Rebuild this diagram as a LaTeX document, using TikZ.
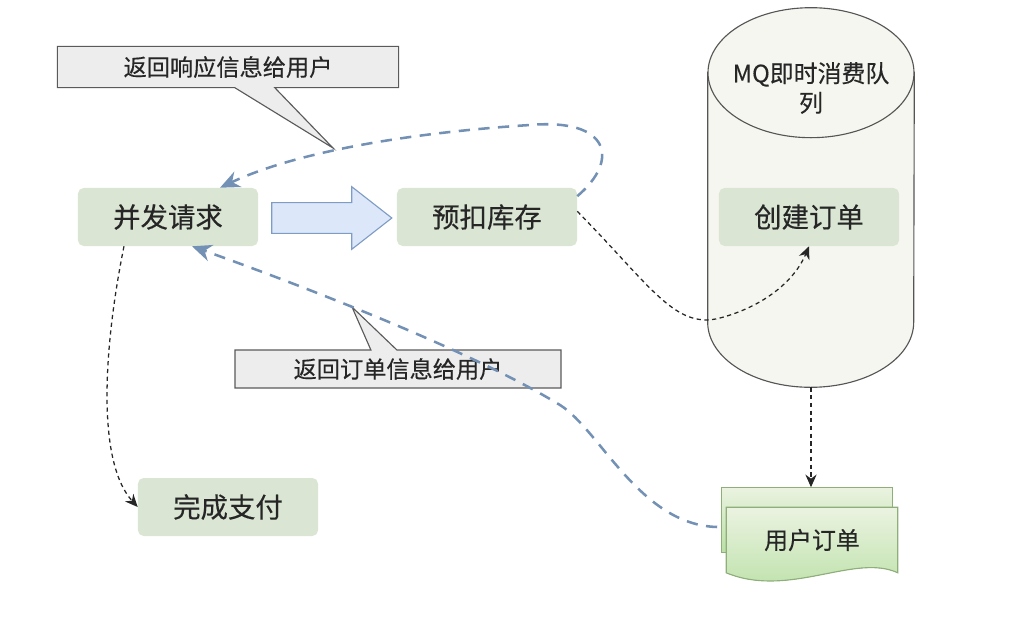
\documentclass[tikz,border=0pt]{standalone}
\usepackage{fontspec}
\setmainfont{Noto Sans CJK SC}[FakeBold=0.35]
\usetikzlibrary{shapes,shapes.arrows,shapes.callouts,arrows.meta,positioning,calc}

\definecolor{boxgreen}{HTML}{DAE6D3}
\definecolor{textgray}{HTML}{262626}
\definecolor{arrowfill}{HTML}{DCE8FA}
\definecolor{arrowline}{HTML}{7F9CC4}
\definecolor{flowblue}{HTML}{7391B5}
\definecolor{cylfill}{HTML}{F6F6F0}
\definecolor{cylline}{HTML}{555555}
\definecolor{notefill}{HTML}{EDEDED}
\definecolor{notegray}{HTML}{5A5A5A}
\definecolor{doctop}{HTML}{EBF3E1}
\definecolor{docbottom}{HTML}{B9E0A5}
\definecolor{docline}{HTML}{8FAE7A}

\begin{document}
\begin{tikzpicture}[x=0.025cm, y=-0.025cm,
    proc/.style={fill=boxgreen, rounded corners=4pt, minimum width=4.5cm, minimum height=1.45cm, text=textgray, font=\fontsize{19.5}{22}\selectfont},
    note/.style={rectangle callout, draw=notegray, line width=0.8pt, fill=notefill, text=textgray, font=\fontsize{16.5}{19}\selectfont},
    bigarrow/.style={single arrow, draw=arrowline, fill=arrowfill, line width=0.8pt, inner xsep=0, inner ysep=10.5pt, minimum height=3.0cm, minimum width=1.55cm, single arrow head extend=0.4cm, single arrow tip angle=76},
    cyl/.style={draw=cylline, fill=cylfill, line width=0.8pt},
    doc/.style={draw=docline, line width=0.8pt, top color=doctop, bottom color=docbottom},
    reply/.style={draw=flowblue, line width=1.8pt, dash pattern=on 8pt off 6pt, -{Stealth[length=14pt,width=12pt]}},
    flow/.style={draw=black!85, line width=0.9pt, dash pattern=on 3pt off 2.5pt, -{Stealth[length=9pt,width=8pt]}}]

    \useasboundingbox (0,0) rectangle (1022,620);

    % Queue
    \node[minimum width=5.15cm, minimum height=6.225cm, inner sep=0] (mq) at (811,197.5) {};
    \filldraw[cyl] (mq.north west) -- (mq.south west) arc[start angle=180, end angle=0, x radius=103, y radius=65] -- (mq.north east) -- cycle;
    \filldraw[cyl] (mq.north) ellipse[x radius=103, y radius=65];
    \node[align=center, text=textgray, font=\fontsize{17}{21}\selectfont] (mqtext) at (811,88) {MQ即时消费队\\列};

    % Steps
    \node[proc] (req) at (168,217) {并发请求};
    \node[proc] (stock) at (487,217) {预扣库存};
    \node[proc] (create) at (809,217) {创建订单};
    \node[proc] (pay) at (228,507) {完成支付};

    \node[bigarrow] (move) at (322,218) {};

    % Order document
    \node[minimum width=4.275cm, minimum height=1.625cm, inner sep=0] (order) at (812,540) {};
    \filldraw[doc] ($(order.north west)+(-5,-20)$) rectangle ($(order.south east)+(-5,-20)$);
    \filldraw[doc] (order.north west) -- (order.north east) -- (order.south east)
        .. controls +(-43,-20) and +(63,26) .. (order.south west) -- cycle;
    \node[text=textgray, font=\fontsize{17}{20}\selectfont] (ordertext) at (order.center) {用户订单};

    % Notes
    \node[note, minimum width=8.53cm, minimum height=1.03cm, callout absolute pointer={(333,148)}, callout pointer width=1cm] (tip1) at (228,67) {返回响应信息给用户};
    \node[note, minimum width=8.15cm, minimum height=0.95cm, callout absolute pointer={(352,307)}, callout pointer width=0.65cm] (tip2) at (398,369) {返回订单信息给用户};

    % Connections
    \draw[reply] ([yshift=-6pt]stock.north east) .. controls (620,160) and (610,118) .. (530,125)
        .. controls (420,132) and (300,150) .. ([xshift=1.3cm]req.north);
    \draw[reply] ($(order.west)+(-9,-13)$) .. controls (640,525) and (600,430) .. (560,405)
        .. controls (470,350) and (300,285) .. ([xshift=0.6cm]req.south);

    \draw[flow] ([xshift=-1.1cm]req.south) .. controls (105,340) and (95,460) .. (pay.west);
    \draw[flow] ([yshift=4pt]stock.east) .. controls (650,285) and (675,330) .. (720,318)
        .. controls (765,306) and (795,280) .. (create.south);
    \draw[flow] ($(mq.south)+(0,65)$) -- ($(mq.south |- order.north)+(0,-20)$);

\end{tikzpicture}
\end{document}
